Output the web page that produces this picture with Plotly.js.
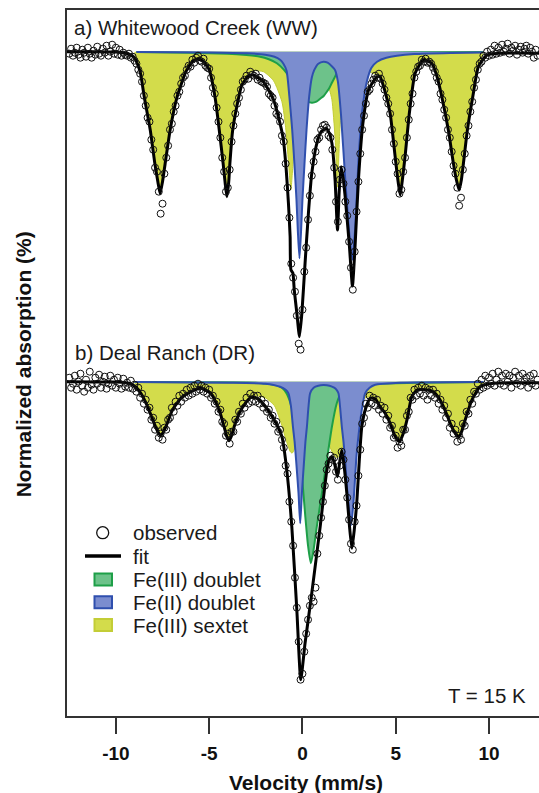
<!DOCTYPE html>
<html>
<head>
<meta charset="utf-8">
<script src="https://cdn.plot.ly/plotly-3.0.1.min.js"></script>
<style>html,body{margin:0;padding:0;background:#fff;overflow:hidden;}#chart{width:539px;height:793px;}</style>
</head>
<body>
<div id="chart"></div>
<script>
// ---------- DATA (velocity in mm/s, absorption depth in %) ----------
const tickValues = [-10, -5, 0, 5, 10];
const tickLabels = ['-10', '-5', '0', '5', '10'];
const offsetWW = 0;      // vertical position of spectrum a)
const offsetDR = -16.5;  // vertical position of spectrum b)

// a) Whitewood Creek: fitted components [velocity, depth]
const wwSextet = [[-9.0,0.05],[-8.9,0.35],[-8.7,1.0],[-8.48,2.25],[-8.3,3.1],[-8.16,3.9],[-7.91,5.57],[-7.75,6.5],[-7.63,7.07],[-7.5,6.5],[-7.36,5.57],[-7.09,3.9],[-6.9,3.0],[-6.73,2.25],[-6.5,1.5],[-6.25,0.92],[-5.9,0.5],[-5.63,0.33],[-5.3,0.45],[-5.0,0.8],[-4.68,2.25],[-4.46,3.9],[-4.25,5.58],[-4.15,6.5],[-4.05,7.25],[-3.95,6.5],[-3.85,5.2],[-3.72,3.9],[-3.52,2.6],[-3.25,1.6],[-2.89,1.1],[-2.6,0.95],[-2.09,1.0],[-1.55,1.45],[-1.1,2.5],[-0.9,3.8],[-0.75,5.5],[-0.62,6.9],[-0.5,5.5],[-0.35,3.6],[-0.15,2.4],[0.1,1.6],[0.4,1.3],[0.7,1.2],[1.0,1.2],[1.3,1.4],[1.45,1.9],[1.58,2.4],[1.75,4.3],[1.88,6.77],[2.0,4.0],[2.1,2.5],[2.3,1.6],[2.6,1.2],[3.0,1.05],[3.5,1.0],[3.99,1.15],[4.16,1.25],[4.4,1.9],[4.7,3.08],[4.97,5.25],[5.1,6.3],[5.24,7.17],[5.37,6.3],[5.5,5.25],[5.73,3.08],[6.04,1.08],[6.3,0.6],[6.48,0.42],[6.93,0.58],[7.2,1.2],[7.47,2.25],[7.82,3.92],[8.09,5.58],[8.25,6.4],[8.4,6.92],[8.52,6.4],[8.63,5.58],[8.84,3.92],[9.13,2.25],[9.43,0.75],[9.6,0.3],[9.7,0.1]];
const wwFe3Doublet = [[-8.9,0.02],[-6,0.05],[-4,0.1],[-3,0.17],[-2.27,0.25],[-1.8,0.38],[-1.37,0.58],[-1.0,0.9],[-0.6,1.4],[-0.2,2.0],[0.2,2.45],[0.5,2.55],[0.75,2.5],[0.95,2.35],[1.15,2.2],[1.31,2.0],[1.45,1.8],[1.58,1.55],[1.72,1.3],[1.84,1.08],[2.0,0.85],[2.2,0.65],[2.7,0.35],[3.5,0.15],[4.16,0.08],[6,0.03],[9.7,0.01]];
const wwFe2Doublet = [[-8.9,0.02],[-5,0.04],[-3,0.08],[-2,0.15],[-1.5,0.25],[-1.2,0.4],[-1.02,0.6],[-0.85,0.95],[-0.7,2.25],[-0.55,3.9],[-0.43,5.6],[-0.32,7.4],[-0.25,8.9],[-0.16,10.33],[-0.07,8.9],[0.0,7.4],[0.11,5.6],[0.22,3.9],[0.36,2.25],[0.5,1.3],[0.63,0.92],[0.85,0.6],[1.13,0.5],[1.35,0.55],[1.6,0.75],[1.75,0.92],[1.9,1.5],[2.07,3.2],[2.29,6.3],[2.5,9.0],[2.68,10.4],[2.85,8.5],[3.0,5.5],[3.2,3.0],[3.45,1.5],[3.7,0.8],[4.0,0.5],[4.5,0.3],[6,0.12],[8,0.06],[9.7,0.04]];
const wwFit = [[-12.62,0],[-11,0],[-10,0.02],[-9.4,0.1],[-9.0,0.3],[-8.7,1.0],[-8.48,2.25],[-8.16,3.9],[-7.91,5.6],[-7.75,6.5],[-7.63,7.1],[-7.5,6.5],[-7.36,5.6],[-7.09,3.9],[-6.73,2.3],[-6.25,1.0],[-5.9,0.5],[-5.63,0.35],[-5.3,0.5],[-5.0,0.9],[-4.68,2.3],[-4.46,3.9],[-4.25,5.6],[-4.15,6.5],[-4.05,7.25],[-3.95,6.5],[-3.89,5.6],[-3.75,4.0],[-3.52,2.75],[-3.25,1.67],[-2.89,1.22],[-2.63,1.17],[-2.09,1.5],[-1.55,2.4],[-1.25,3.4],[-1.02,4.42],[-0.87,5.9],[-0.75,7.58],[-0.66,9.25],[-0.62,10.9],[-0.51,11.08],[-0.44,11.9],[-0.3,13.07],[-0.16,14.25],[-0.03,13.07],[0.14,10.58],[0.32,8.08],[0.5,6.08],[0.77,4.58],[1.0,4.0],[1.27,3.83],[1.45,4.1],[1.58,4.58],[1.75,6.42],[1.88,8.92],[1.97,7.0],[2.07,5.75],[2.18,6.3],[2.29,7.25],[2.52,9.75],[2.68,11.72],[2.82,9.75],[3.0,6.42],[3.24,3.58],[3.54,1.92],[3.99,1.25],[4.16,1.25],[4.4,1.9],[4.7,3.08],[4.97,5.25],[5.1,6.3],[5.24,7.17],[5.37,6.3],[5.5,5.25],[5.73,3.08],[6.04,1.08],[6.48,0.42],[6.93,0.58],[7.2,1.2],[7.47,2.25],[7.82,3.92],[8.09,5.58],[8.25,6.4],[8.4,6.92],[8.52,6.4],[8.63,5.58],[8.84,3.92],[9.13,2.25],[9.43,0.75],[9.88,0.17],[10.5,0.08],[12.68,0.08]];
const wwObserved = [[-12.5,0.1],[-12.4,-0.15],[-12.3,0.2],[-12.2,0.05],[-12.1,-0.2],[-12.0,0.15],[-11.9,0.3],[-11.8,-0.1],[-11.7,0.05],[-11.6,0.25],[-11.5,-0.2],[-11.4,0.1],[-11.3,0.3],[-11.2,-0.05],[-11.1,0.15],[-11.0,-0.25],[-10.9,0.1],[-10.8,0.2],[-10.7,-0.15],[-10.6,0.05],[-10.5,-0.3],[-10.4,0.2],[-10.3,0.0],[-10.2,-0.35],[-10.1,0.1],[-10.0,-0.2],[-9.9,0.15],[-9.8,-0.1],[-9.7,0.2],[-9.6,0.05],[-9.5,0.15],[-9.4,0.2],[-9.3,0.1],[-9.2,0.3],[-9.1,0.25],[-9.0,0.45],[-8.9,0.6],[-8.8,0.9],[-8.7,1.1],[-8.6,1.5],[-8.5,2.2],[-8.4,2.7],[-8.3,3.3],[-8.2,3.5],[-8.1,4.4],[-8.0,4.9],[-7.9,5.8],[-7.8,6.0],[-7.7,7.0],[-7.6,8.1],[-7.5,7.6],[-7.4,6.1],[-7.3,5.3],[-7.2,4.7],[-7.1,3.9],[-7.0,3.6],[-6.9,3.0],[-6.8,2.7],[-6.7,2.2],[-6.6,2.0],[-6.5,1.6],[-6.4,1.3],[-6.3,1.2],[-6.2,0.9],[-6.1,0.7],[-6.0,0.75],[-5.9,0.4],[-5.8,0.55],[-5.7,0.3],[-5.6,0.2],[-5.5,0.45],[-5.4,0.5],[-5.3,0.35],[-5.2,0.7],[-5.1,0.8],[-5.0,0.85],[-4.9,1.3],[-4.8,1.8],[-4.7,2.1],[-4.6,2.8],[-4.5,3.5],[-4.4,4.3],[-4.3,5.3],[-4.2,6.0],[-4.1,7.0],[-4.0,6.8],[-3.9,5.9],[-3.8,4.5],[-3.7,3.7],[-3.6,3.1],[-3.5,2.6],[-3.4,2.3],[-3.3,1.9],[-3.2,1.5],[-3.1,1.4],[-3.0,1.2],[-2.9,1.35],[-2.8,1.0],[-2.7,1.15],[-2.6,1.2],[-2.5,1.1],[-2.4,1.4],[-2.3,1.3],[-2.2,1.5],[-2.1,1.55],[-2.0,1.6],[-1.9,1.75],[-1.8,2.1],[-1.7,2.2],[-1.6,2.3],[-1.5,2.7],[-1.4,3.1],[-1.3,3.2],[-1.2,3.5],[-1.1,4.2],[-1.0,4.5],[-0.9,5.6],[-0.8,6.8],[-0.7,8.3],[-0.6,10.6],[-0.5,11.3],[-0.4,12.0],[-0.3,13.2],[-0.2,14.6],[-0.1,14.9],[0.0,12.9],[0.1,11.0],[0.2,9.8],[0.3,8.4],[0.4,7.2],[0.5,6.2],[0.6,5.5],[0.7,5.0],[0.8,4.4],[0.9,4.3],[1.0,3.9],[1.1,3.7],[1.2,3.65],[1.3,3.8],[1.4,4.2],[1.5,4.3],[1.6,4.9],[1.7,5.8],[1.8,7.5],[1.9,8.5],[2.0,6.4],[2.1,5.9],[2.2,6.6],[2.3,7.5],[2.4,8.2],[2.5,9.5],[2.6,10.8],[2.7,11.9],[2.8,10.0],[2.9,8.0],[3.0,6.5],[3.1,5.1],[3.2,3.9],[3.3,3.2],[3.4,2.6],[3.5,2.0],[3.6,1.9],[3.7,1.6],[3.8,1.4],[3.9,1.2],[4.0,1.3],[4.1,1.1],[4.2,1.35],[4.3,1.6],[4.4,1.9],[4.5,2.3],[4.6,2.6],[4.7,3.1],[4.8,3.9],[4.9,4.6],[5.0,5.5],[5.1,6.1],[5.2,7.1],[5.3,6.9],[5.4,6.0],[5.5,5.3],[5.6,4.3],[5.7,3.4],[5.8,2.6],[5.9,2.1],[6.0,1.3],[6.1,1.0],[6.2,0.75],[6.3,0.7],[6.4,0.4],[6.5,0.5],[6.6,0.35],[6.7,0.55],[6.8,0.5],[6.9,0.6],[7.0,0.8],[7.1,1.0],[7.2,1.3],[7.3,1.5],[7.4,2.1],[7.5,2.4],[7.6,2.9],[7.7,3.3],[7.8,3.9],[7.9,4.3],[8.0,5.0],[8.1,5.7],[8.2,6.1],[8.3,6.8],[8.4,7.7],[8.5,7.3],[8.6,5.9],[8.7,5.1],[8.8,4.2],[8.9,3.7],[9.0,3.0],[9.1,2.5],[9.2,1.8],[9.3,1.4],[9.4,0.9],[9.5,0.6],[9.6,0.5],[9.7,0.2],[9.8,0.3],[9.9,0.0],[10.0,0.2],[10.1,-0.1],[10.2,0.15],[10.3,-0.3],[10.4,0.1],[10.5,-0.2],[10.6,0.05],[10.7,-0.35],[10.8,0.0],[10.9,-0.15],[11.0,-0.4],[11.1,0.1],[11.2,-0.2],[11.3,-0.05],[11.4,-0.3],[11.5,0.15],[11.6,-0.1],[11.7,-0.25],[11.8,0.05],[11.9,-0.15],[12.0,-0.3],[12.1,0.1],[12.2,-0.2],[12.3,0.0],[12.4,0.3],[12.5,-0.1],[12.6,0.2]];

// b) Deal Ranch: fitted components [velocity, depth]
const drSextet = [[-9.0,0.05],[-8.66,0.55],[-8.3,1.2],[-7.95,2.05],[-7.75,2.45],[-7.59,2.67],[-7.45,2.45],[-7.32,2.2],[-6.97,1.4],[-6.52,0.8],[-5.98,0.45],[-5.44,0.3],[-4.91,0.55],[-4.46,1.4],[-4.2,2.2],[-4.05,2.7],[-3.93,2.92],[-3.8,2.7],[-3.66,2.2],[-3.39,1.5],[-3.0,0.9],[-2.6,0.7],[-2.0,0.8],[-1.5,1.2],[-1.1,2.2],[-0.85,3.0],[-0.65,3.5],[-0.55,3.57],[-0.4,3.3],[-0.2,2.5],[0.1,1.6],[0.5,1.2],[0.9,1.5],[1.2,2.3],[1.45,3.2],[1.7,3.7],[1.88,3.8],[2.05,3.6],[2.3,2.7],[2.6,1.7],[3.0,1.0],[3.63,0.75],[4.16,1.2],[4.45,1.55],[4.7,2.05],[4.95,2.65],[5.2,3.0],[5.4,2.6],[5.6,1.9],[5.86,0.75],[6.13,0.42],[6.6,0.4],[7.02,0.5],[7.3,0.8],[7.56,1.25],[8.0,2.2],[8.2,2.55],[8.4,2.75],[8.55,2.5],[8.72,1.9],[9.08,0.9],[9.52,0.25],[9.7,0.1]];
const drFe3Doublet = [[-9.0,0.02],[-5,0.03],[-2.5,0.05],[-1.5,0.15],[-1.1,0.3],[-0.84,0.6],[-0.6,1.2],[-0.4,2.0],[-0.2,3.3],[0.0,5.0],[0.15,6.7],[0.3,8.2],[0.45,9.08],[0.6,8.4],[0.77,7.25],[1.04,5.58],[1.31,3.92],[1.58,2.25],[1.84,1.08],[2.02,0.67],[2.4,0.35],[3.0,0.2],[4,0.1],[6,0.05],[9.7,0.02]];
const drFe2Doublet = [[-9.0,0.02],[-4,0.05],[-2,0.1],[-1.2,0.25],[-0.9,0.4],[-0.75,0.58],[-0.62,1.2],[-0.51,2.25],[-0.42,3.0],[-0.34,3.92],[-0.21,5.58],[-0.12,7.08],[-0.03,5.58],[0.09,3.92],[0.16,3.0],[0.24,2.25],[0.32,1.3],[0.41,0.58],[0.6,0.3],[0.85,0.2],[1.13,0.17],[1.45,0.2],[1.7,0.3],[1.82,0.4],[1.93,0.58],[2.02,1.3],[2.11,2.25],[2.2,3.0],[2.29,3.92],[2.41,5.58],[2.61,7.17],[2.77,5.58],[2.88,3.92],[2.97,3.0],[3.06,2.25],[3.2,1.3],[3.36,0.58],[3.6,0.3],[3.9,0.15],[5,0.06],[9.7,0.02]];
const drFit = [[-12.62,0],[-10,0.02],[-9.5,0.05],[-9.2,0.1],[-8.9,0.3],[-8.66,0.58],[-8.3,1.25],[-7.95,2.08],[-7.75,2.5],[-7.59,2.7],[-7.45,2.5],[-7.32,2.25],[-6.97,1.42],[-6.52,0.83],[-5.98,0.5],[-5.44,0.33],[-4.91,0.58],[-4.46,1.42],[-4.2,2.25],[-4.05,2.75],[-3.93,2.95],[-3.8,2.7],[-3.66,2.25],[-3.39,1.58],[-3.0,1.0],[-2.7,0.75],[-2.3,0.9],[-1.73,1.58],[-1.4,2.1],[-1.1,2.75],[-0.84,4.42],[-0.57,7.25],[-0.3,11.42],[-0.09,14.9],[0.14,13.08],[0.5,10.58],[0.95,7.25],[1.31,4.42],[1.45,3.85],[1.58,3.75],[1.72,4.1],[1.88,4.75],[2.0,4.0],[2.11,3.42],[2.22,4.1],[2.38,5.58],[2.52,7.2],[2.65,8.33],[2.78,7.4],[2.92,5.92],[3.05,3.9],[3.18,2.25],[3.4,1.3],[3.63,0.83],[3.9,0.85],[4.16,1.25],[4.45,1.6],[4.7,2.08],[4.95,2.7],[5.2,3.0],[5.4,2.6],[5.6,1.92],[5.86,0.75],[6.13,0.42],[6.6,0.4],[7.02,0.5],[7.3,0.8],[7.56,1.25],[8.0,2.25],[8.2,2.6],[8.4,2.75],[8.55,2.45],[8.72,1.92],[9.08,0.92],[9.52,0.25],[10.24,0.08],[12.68,0.05]];
const drObserved = [[-12.5,-0.2],[-12.4,0.3],[-12.3,0.1],[-12.2,-0.3],[-12.1,0.4],[-12.0,0.0],[-11.9,-0.4],[-11.8,0.2],[-11.7,0.5],[-11.6,-0.1],[-11.5,0.3],[-11.4,-0.5],[-11.3,0.15],[-11.2,0.4],[-11.1,-0.2],[-11.0,0.1],[-10.9,-0.35],[-10.8,0.3],[-10.7,0.0],[-10.6,-0.25],[-10.5,0.35],[-10.4,0.1],[-10.3,-0.3],[-10.2,0.2],[-10.1,-0.1],[-10.0,0.3],[-9.9,-0.2],[-9.8,0.1],[-9.7,0.35],[-9.6,-0.15],[-9.5,0.25],[-9.4,0.05],[-9.3,0.3],[-9.2,-0.05],[-9.1,0.35],[-9.0,0.15],[-8.9,0.5],[-8.8,0.3],[-8.7,0.8],[-8.6,0.6],[-8.5,1.1],[-8.4,0.9],[-8.3,1.4],[-8.2,1.3],[-8.1,1.9],[-8.0,1.8],[-7.9,2.4],[-7.8,2.2],[-7.7,2.8],[-7.6,2.6],[-7.5,2.9],[-7.4,2.3],[-7.3,2.4],[-7.2,1.9],[-7.1,1.8],[-7.0,1.3],[-6.9,1.5],[-6.8,1.0],[-6.7,1.2],[-6.6,0.7],[-6.5,1.0],[-6.4,0.6],[-6.3,0.8],[-6.2,0.4],[-6.1,0.7],[-6.0,0.3],[-5.9,0.6],[-5.8,0.2],[-5.7,0.5],[-5.6,0.1],[-5.5,0.4],[-5.4,0.2],[-5.3,0.5],[-5.2,0.3],[-5.1,0.6],[-5.0,0.4],[-4.9,0.8],[-4.8,0.7],[-4.7,1.1],[-4.6,1.0],[-4.5,1.5],[-4.4,1.4],[-4.3,2.0],[-4.2,2.1],[-4.1,2.7],[-4.0,2.6],[-3.9,3.1],[-3.8,2.5],[-3.7,2.5],[-3.6,1.9],[-3.5,2.0],[-3.4,1.5],[-3.3,1.6],[-3.2,1.1],[-3.1,1.3],[-3.0,0.8],[-2.9,1.1],[-2.8,0.6],[-2.7,1.0],[-2.6,0.7],[-2.5,1.0],[-2.4,0.7],[-2.3,1.1],[-2.2,0.9],[-2.1,1.3],[-2.0,1.1],[-1.9,1.5],[-1.8,1.4],[-1.7,1.8],[-1.6,1.7],[-1.5,2.1],[-1.4,2.0],[-1.3,2.5],[-1.2,2.4],[-1.1,2.9],[-1.0,3.3],[-0.9,4.2],[-0.8,4.6],[-0.7,6.0],[-0.6,7.0],[-0.5,8.2],[-0.4,9.8],[-0.3,11.3],[-0.2,13.0],[-0.1,14.9],[0.0,14.6],[0.1,13.5],[0.2,12.6],[0.3,11.9],[0.4,11.2],[0.5,10.8],[0.6,11.0],[0.7,10.3],[0.8,8.6],[0.9,7.7],[1.0,6.8],[1.1,6.0],[1.2,5.2],[1.3,4.4],[1.4,4.1],[1.5,3.7],[1.6,3.9],[1.7,3.8],[1.8,4.5],[1.9,4.9],[2.0,4.2],[2.1,3.5],[2.2,3.9],[2.3,4.9],[2.4,5.8],[2.5,6.9],[2.6,8.1],[2.7,8.4],[2.8,7.0],[2.9,6.2],[3.0,4.7],[3.1,3.4],[3.2,2.1],[3.3,1.8],[3.4,1.1],[3.5,1.3],[3.6,0.7],[3.7,1.1],[3.8,0.8],[3.9,1.2],[4.0,0.9],[4.1,1.4],[4.2,1.2],[4.3,1.6],[4.4,1.3],[4.5,1.9],[4.6,1.7],[4.7,2.3],[4.8,2.2],[4.9,2.8],[5.0,2.7],[5.1,3.3],[5.2,3.0],[5.3,3.2],[5.4,2.4],[5.5,2.4],[5.6,1.7],[5.7,1.5],[5.8,0.8],[5.9,0.9],[6.0,0.4],[6.1,0.7],[6.2,0.3],[6.3,0.6],[6.4,0.2],[6.5,0.7],[6.6,0.3],[6.7,0.9],[6.8,0.4],[6.9,0.7],[7.0,0.4],[7.1,0.8],[7.2,0.6],[7.3,1.1],[7.4,0.9],[7.5,1.4],[7.6,1.2],[7.7,1.8],[7.8,1.6],[7.9,2.3],[8.0,2.1],[8.1,2.6],[8.2,2.4],[8.3,3.0],[8.4,2.7],[8.5,2.9],[8.6,2.1],[8.7,2.2],[8.8,1.5],[8.9,1.6],[9.0,0.9],[9.1,1.1],[9.2,0.5],[9.3,0.6],[9.4,0.1],[9.5,0.4],[9.6,-0.1],[9.7,0.3],[9.8,-0.3],[9.9,0.2],[10.0,-0.2],[10.1,0.1],[10.2,-0.4],[10.3,0.2],[10.4,-0.1],[10.5,-0.5],[10.6,0.1],[10.7,-0.3],[10.8,0.2],[10.9,-0.4],[11.0,0.0],[11.1,-0.3],[11.2,0.3],[11.3,-0.2],[11.4,-0.5],[11.5,0.1],[11.6,-0.3],[11.7,0.2],[11.8,-0.4],[11.9,0.0],[12.0,-0.2],[12.1,0.3],[12.2,-0.3],[12.3,0.1],[12.4,-0.4],[12.5,0.2],[12.6,-0.1]];

const panelLabels = ['a) Whitewood Creek (WW)', 'b) Deal Ranch (DR)'];
const legendLabels = ['observed', 'fit', 'Fe(III) doublet', 'Fe(II) doublet', 'Fe(III) sextet'];
const tempLabel = 'T = 15 K';

// ---------- STYLE ----------
const C = {
  sextetFill: '#d3dc4b', sextetLine: '#c3cd36',
  fe3Fill: '#6dc28a', fe3Line: '#1e9f48',
  fe2Fill: '#7b8dcf', fe2Line: '#2f4fae'
};
const FONT = 'Liberation Sans, Arial, Helvetica, sans-serif';

const traces = [];
function addComponent(pts, off, fill, lineColor, lw) {
  const xs = pts.map(p => p[0]);
  traces.push({x: [xs[0], xs[xs.length - 1]], y: [off, off], mode: 'lines',
    line: {width: 0, color: 'rgba(0,0,0,0)'}, hoverinfo: 'skip', showlegend: false});
  traces.push({x: xs, y: pts.map(p => off - p[1]), mode: 'lines', fill: 'tonexty', fillcolor: fill,
    line: {color: lineColor, width: lw, shape: 'spline', smoothing: 0.6}, hoverinfo: 'skip', showlegend: false});
}
function addSpectrum(sext, fe3, fe2, fit, obs, off) {
  addComponent(sext, off, C.sextetFill, C.sextetLine, 1);
  addComponent(fe3, off, C.fe3Fill, C.fe3Line, 2);
  addComponent(fe2, off, C.fe2Fill, C.fe2Line, 2);
  traces.push({x: fit.map(p => p[0]), y: fit.map(p => off - p[1]), mode: 'lines',
    line: {color: '#000', width: 3, shape: 'spline', smoothing: 0.5}, showlegend: false});
  traces.push({x: obs.map(p => p[0]), y: obs.map(p => off - p[1]), mode: 'markers',
    marker: {symbol: 'circle-open', size: 7, color: '#111', line: {width: 1, color: '#111'}}, showlegend: false});
}
addSpectrum(wwSextet, wwFe3Doublet, wwFe2Doublet, wwFit, wwObserved, offsetWW);
addSpectrum(drSextet, drFe3Doublet, drFe2Doublet, drFit, drObserved, offsetDR);

// layout geometry helpers (pixel -> paper) for text and legend decoration
const L = 67, T = 10, W = 472, H = 706;
const px = p => (p - L) / W;
const py = p => (T + H - p) / H;

const txt = {family: FONT, size: 20.5, color: '#1a1a1a'};
const annotations = [
  {text: panelLabels[0], x: px(71.5), y: py(27), xanchor: 'left', yanchor: 'middle'},
  {text: panelLabels[1], x: px(73), y: py(352), xanchor: 'left', yanchor: 'middle'},
  {text: tempLabel, x: px(528), y: py(695.5), xanchor: 'right', yanchor: 'middle'}
].map(a => Object.assign(a, {xref: 'paper', yref: 'paper', showarrow: false, font: txt}));

const rows = [532.7, 556, 579.5, 602.3, 625];
legendLabels.forEach((lab, i) => annotations.push({text: lab, x: px(130.5), y: py(rows[i]),
  xref: 'paper', yref: 'paper', xanchor: 'left', yanchor: 'middle', showarrow: false, font: txt}));

annotations.push({text: '<b>Velocity (mm/s)</b>', x: px(306), y: py(782), xref: 'paper', yref: 'paper',
  xanchor: 'center', yanchor: 'middle', showarrow: false, font: {family: FONT, size: 21, color: '#111'}});
annotations.push({text: '<b>Normalized absorption (%)</b>', x: px(23.3), y: py(364), xref: 'paper', yref: 'paper',
  xanchor: 'center', yanchor: 'middle', textangle: -90, showarrow: false, font: {family: FONT, size: 21, color: '#111'}});

const shapes = [
  {type: 'circle', xref: 'paper', yref: 'paper', x0: px(96.7), x1: px(108.7), y0: py(538.7), y1: py(526.7), line: {color: '#111', width: 1.3}},
  {type: 'line', xref: 'paper', yref: 'paper', x0: px(85), x1: px(121), y0: py(556), y1: py(556), line: {color: '#000', width: 3.5}}
];
[[C.fe3Fill, C.fe3Line], [C.fe2Fill, C.fe2Line], [C.sextetFill, C.sextetLine]].forEach((c, i) => {
  const r = rows[i + 2];
  shapes.push({type: 'rect', xref: 'paper', yref: 'paper', x0: px(94.5), x1: px(112), y0: py(r + 6), y1: py(r - 6),
    fillcolor: c[0], line: {color: c[1], width: 2}});
});

const layout = {
  width: 539, height: 793,
  margin: {l: L, r: 0, t: T, b: 793 - T - H},
  paper_bgcolor: '#fff', plot_bgcolor: '#fff',
  showlegend: false,
  xaxis: {range: [-12.62, 12.68], tickmode: 'array', tickvals: tickValues, ticktext: tickLabels,
    ticks: 'outside', ticklen: 16, tickwidth: 2, tickcolor: '#333', ticklabelstandoff: 3,
    showline: true, linewidth: 2, linecolor: '#333', mirror: true, showgrid: false, zeroline: false,
    tickfont: {family: FONT, size: 19, weight: 'bold', color: '#111'}},
  yaxis: {range: [-33.215, 2.085], showline: true, linewidth: 2, linecolor: '#333', mirror: false,
    showticklabels: false, ticks: '', showgrid: false, zeroline: false},
  annotations: annotations,
  shapes: shapes
};
Plotly.newPlot('chart', traces, layout, {displayModeBar: false, staticPlot: true});
</script>
</body>
</html>
